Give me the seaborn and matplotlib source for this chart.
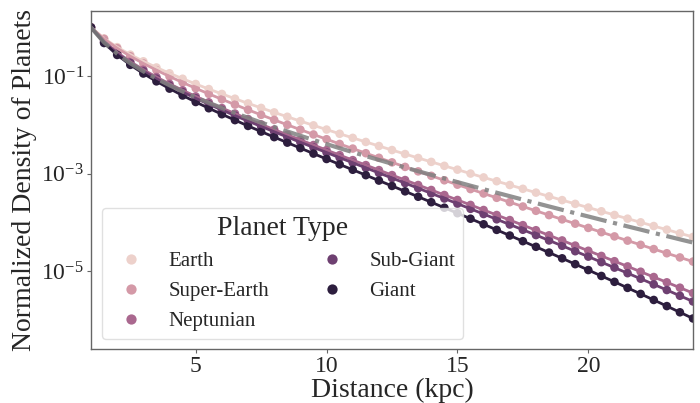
import numpy as np
import pandas as pd
import matplotlib
matplotlib.use("Agg")
import matplotlib.pyplot as plt
import seaborn as sns
from matplotlib.ticker import NullLocator

# ===== DATA (log10 of normalized density) =====
distance_kpc = [1.0, 1.5, 2.0, 2.5, 3.0, 3.5, 4.0, 4.5, 5.0, 5.5, 6.0, 6.5, 7.0, 7.5,
                8.0, 8.5, 9.0, 9.5, 10.0, 10.5, 11.0, 11.5, 12.0, 12.5, 13.0, 13.5,
                14.0, 14.5, 15.0, 15.5, 16.0, 16.5, 17.0, 17.5, 18.0, 18.5, 19.0,
                19.5, 20.0, 20.5, 21.0, 21.5, 22.0, 22.5, 23.0, 23.5, 24.0]

planet_types = ["Earth", "Super-Earth", "Neptunian", "Sub-Giant", "Giant"]

earth_log = [0.0, -0.225, -0.404, -0.558, -0.695, -0.822, -0.941, -1.053, -1.161, -1.265,
             -1.365, -1.463, -1.559, -1.652, -1.744, -1.834, -1.923, -2.010, -2.097, -2.183,
             -2.267, -2.351, -2.434, -2.517, -2.599, -2.680, -2.760, -2.841, -2.920, -3.000,
             -3.079, -3.157, -3.235, -3.313, -3.391, -3.468, -3.545, -3.622, -3.698, -3.774,
             -3.850, -3.926, -4.001, -4.077, -4.152, -4.227, -4.301]
super_earth_log = [0.0, -0.236, -0.426, -0.591, -0.739, -0.877, -1.007, -1.130, -1.249, -1.364,
                   -1.475, -1.584, -1.691, -1.795, -1.898, -1.999, -2.099, -2.197, -2.295, -2.392,
                   -2.487, -2.582, -2.676, -2.770, -2.863, -2.955, -3.046, -3.138, -3.228, -3.319,
                   -3.409, -3.498, -3.587, -3.676, -3.765, -3.853, -3.941, -4.029, -4.116, -4.203,
                   -4.290, -4.377, -4.463, -4.550, -4.636, -4.722, -4.807]
neptunian_log = [0.0, -0.289, -0.513, -0.701, -0.867, -1.018, -1.158, -1.290, -1.416, -1.537,
                 -1.655, -1.768, -1.880, -1.990, -2.097, -2.204, -2.309, -2.414, -2.518, -2.621,
                 -2.724, -2.826, -2.929, -3.031, -3.133, -3.235, -3.337, -3.440, -3.542, -3.644,
                 -3.748, -3.851, -3.955, -4.059, -4.163, -4.268, -4.373, -4.479, -4.585, -4.691,
                 -4.799, -4.906, -5.015, -5.124, -5.233, -5.343, -5.453]
sub_giant_log = [0.0, -0.303, -0.533, -0.727, -0.897, -1.051, -1.193, -1.326, -1.454, -1.577,
                 -1.694, -1.810, -1.922, -2.033, -2.142, -2.250, -2.357, -2.463, -2.568, -2.674,
                 -2.778, -2.883, -2.987, -3.092, -3.196, -3.301, -3.407, -3.512, -3.618, -3.724,
                 -3.831, -3.939, -4.046, -4.154, -4.263, -4.373, -4.483, -4.594, -4.705, -4.819,
                 -4.931, -5.045, -5.159, -5.275, -5.391, -5.509, -5.626]
giant_log = [0.0, -0.320, -0.565, -0.768, -0.946, -1.107, -1.256, -1.397, -1.531, -1.659,
             -1.782, -1.903, -2.022, -2.138, -2.252, -2.365, -2.477, -2.590, -2.701, -2.812,
             -2.922, -3.033, -3.144, -3.254, -3.365, -3.476, -3.588, -3.701, -3.814, -3.927,
             -4.041, -4.156, -4.272, -4.388, -4.504, -4.622, -4.740, -4.860, -4.981, -5.102,
             -5.223, -5.347, -5.471, -5.595, -5.721, -5.848, -5.975]
reference_log = [0.0, -0.308, -0.541, -0.735, -0.902, -1.052, -1.188, -1.315, -1.434, -1.547,
                 -1.653, -1.757, -1.855, -1.952, -2.044, -2.135, -2.224, -2.311, -2.395, -2.479,
                 -2.560, -2.641, -2.720, -2.799, -2.875, -2.952, -3.027, -3.101, -3.175, -3.249,
                 -3.321, -3.393, -3.464, -3.535, -3.605, -3.675, -3.744, -3.814, -3.881, -3.950,
                 -4.017, -4.085, -4.151, -4.219, -4.284, -4.351, -4.416]

# ===== BUILD TABLE =====
series = [earth_log, super_earth_log, neptunian_log, sub_giant_log, giant_log]
frames = []
for name, vals in zip(planet_types, series):
    frames.append(pd.DataFrame({
        "Distance": distance_kpc,
        "Density": 10 ** np.array(vals),
        "Planet Type": name,
    }))
df = pd.concat(frames, ignore_index=True)
ref_df = pd.DataFrame({"Distance": distance_kpc, "Density": 10 ** np.array(reference_log)})

# ===== STYLE =====
sns.set_theme(style="ticks")
plt.rcParams["font.family"] = ["Liberation Serif", "DejaVu Serif"]
plt.rcParams["mathtext.fontset"] = "stix"
palette = sns.cubehelix_palette(5)

fig = plt.figure(figsize=(7, 4.03), dpi=100)
ax = fig.add_axes([0.13, 0.133, 0.86, 0.840])

sns.scatterplot(data=df, x="Distance", y="Density", hue="Planet Type",
                hue_order=planet_types, palette=palette, s=38, linewidth=0, ax=ax)
sns.lineplot(data=df, x="Distance", y="Density", hue="Planet Type",
             hue_order=planet_types, palette=palette, linewidth=2.0, legend=False, ax=ax)
sns.lineplot(data=ref_df, x="Distance", y="Density", color="gray", linestyle="-.",
             linewidth=3, alpha=0.85, ax=ax)

ax.set_yscale("log")
ax.set_xlim(1, 24)
ax.set_ylim(10 ** -6.61, 10 ** 0.34)
ax.set_yticks([1e-1, 1e-3, 1e-5])
ax.yaxis.set_minor_locator(NullLocator())
ax.set_xticks([5, 10, 15, 20])
ax.tick_params(labelsize=17, length=3, width=0.8, color=".4", pad=2)
for sp in ax.spines.values():
    sp.set_color(".4")
    sp.set_linewidth(1.0)

ax.set_xlabel("Distance (kpc)", fontsize=20, labelpad=0)
ax.set_ylabel("Normalized Density of Planets", fontsize=20, labelpad=3)

handles, labels = ax.get_legend_handles_labels()
leg = ax.legend(handles, labels, title="Planet Type", ncol=2, fontsize=15,
                title_fontsize=20, loc="lower left", bbox_to_anchor=(0.018, 0.030),
                borderaxespad=0, frameon=True, fancybox=True, edgecolor=".85",
                columnspacing=2.0, handletextpad=0.8, markerscale=1.2,
                borderpad=0.4, labelspacing=0.5)

fig.savefig("out.png", dpi=100)
